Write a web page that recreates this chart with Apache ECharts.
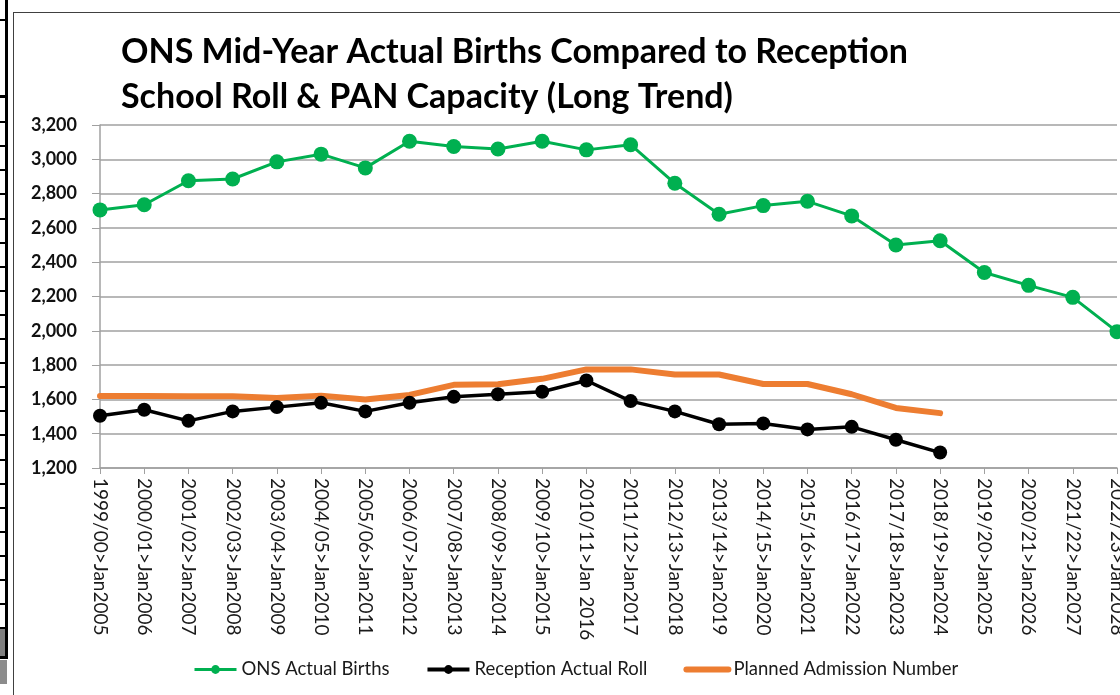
<!DOCTYPE html>
<html><head><meta charset="utf-8">
<script src="https://cdn.jsdelivr.net/npm/echarts@6/dist/echarts.min.js"></script>
<style>html,body{margin:0;padding:0;background:#fff}#c{width:1120px;height:695px}</style>
</head><body><div id="c"></div>
<script>
const categories = [
  '1999/00>Jan2005','2000/01>Jan2006','2001/02>Jan2007','2002/03>Jan2008','2003/04>Jan2009',
  '2004/05>Jan2010','2005/06>Jan2011','2006/07>Jan2012','2007/08>Jan2013','2008/09>Jan2014',
  '2009/10>Jan2015','2010/11>Jan 2016','2011/12>Jan2017','2012/13>Jan2018','2013/14>Jan2019',
  '2014/15>Jan2020','2015/16>Jan2021','2016/17>Jan2022','2017/18>Jan2023','2018/19>Jan2024',
  '2019/20>Jan2025','2020/21>Jan2026','2021/22>Jan2027','2022/23>Jan2028'
];
const onsBirths = [2705, 2735, 2875, 2885, 2985, 3030, 2950, 3105, 3075, 3060, 3105, 3055,
                   3085, 2860, 2680, 2730, 2755, 2670, 2500, 2525, 2340, 2265, 2195, 1995];
const receptionRoll = [1505, 1540, 1475, 1530, 1555, 1580, 1530, 1580, 1615, 1630, 1645, 1710,
                       1590, 1530, 1455, 1460, 1425, 1440, 1365, 1290];
const plannedAdmission = [1620, 1620, 1618, 1618, 1608, 1622, 1600, 1626, 1685, 1688, 1720, 1775,
                          1775, 1745, 1745, 1690, 1690, 1630, 1550, 1520];
const seriesNames = ['ONS Actual Births', 'Reception Actual Roll', 'Planned Admission Number'];
const titleText = 'ONS Mid-Year Actual Births Compared to Reception\nSchool Roll & PAN Capacity (Long Trend)';

function fmt(v){ return String(v).replace(/\B(?=(\d{3})+(?!\d))/g, ','); }

// decorative remnants at left edge of the screenshot
const graphics = [
  {type:'rect', shape:{x:13, y:12, width:1200, height:1}, style:{fill:'#404040'}, silent:true},
  {type:'rect', shape:{x:13, y:12, width:1, height:700}, style:{fill:'#404040'}, silent:true},
  {type:'rect', shape:{x:5, y:0, width:3, height:659}, style:{fill:'#000'}, silent:true},
  {type:'rect', shape:{x:0, y:19, width:7, height:2}, style:{fill:'#000'}, silent:true},
  {type:'rect', shape:{x:0, y:95, width:7, height:3}, style:{fill:'#000'}, silent:true},
  {type:'rect', shape:{x:0, y:628, width:5, height:29}, style:{fill:'#7f7f7f'}, silent:true},
  {type:'rect', shape:{x:0, y:656, width:8, height:3}, style:{fill:'#000'}, silent:true},
  {type:'rect', shape:{x:0, y:660, width:7, height:24}, style:{fill:'#8c8c8c'}, silent:true}
];
for (let k = 1; k <= 22; k++) {
  graphics.push({type:'rect', shape:{x:0, y:Math.round(97 + k*24.1), width:6, height:2}, style:{fill:'#000'}, silent:true});
}

const chart = echarts.init(document.getElementById('c'), null, {renderer:'canvas'});
chart.setOption({
  animation: false,
  backgroundColor: '#fff',
  graphic: graphics,
  title: {
    text: titleText,
    left: 116, top: 25,
    textStyle: {fontFamily:'Lato', fontWeight:'bold', fontSize:34, lineHeight:45, color:'#000'}
  },
  legend: {
    left: 188, top: 655,
    itemWidth: 42, itemHeight: 11, itemGap: 36,
    textStyle: {fontFamily:'Lato', fontSize:18.5, color:'#1a1a1a'},
    data: [
      {name: seriesNames[0], lineStyle:{width:3}},
      {name: seriesNames[1], lineStyle:{width:4}},
      {name: seriesNames[2], lineStyle:{width:6, cap:'round'},
       itemStyle:{color:'rgba(0,0,0,0)', borderColor:'rgba(0,0,0,0)', borderWidth:0, opacity:0}}
    ]
  },
  grid: {left:100, right:3, top:125, bottom:227, containLabel:false, outerBoundsMode:'none'},
  xAxis: {
    type:'category', data: categories, boundaryGap:false,
    axisLine:{lineStyle:{color:'#a0a0a0', width:1.5}},
    axisTick:{show:true, length:6, interval:0, lineStyle:{color:'#a0a0a0'}},
    axisLabel:{rotate:-90, interval:0, margin:10, fontFamily:'Lato', fontSize:19, color:'#1a1a1a'},
    splitLine:{show:false}
  },
  yAxis: {
    type:'value', min:1200, max:3200, interval:200,
    axisLine:{show:true, lineStyle:{color:'#a0a0a0', width:1.5}},
    axisTick:{show:true, length:8, lineStyle:{color:'#a0a0a0'}},
    axisLabel:{margin:23, fontFamily:'Lato', fontWeight:'bold', fontSize:18, color:'#111', formatter: fmt},
    splitLine:{show:true, lineStyle:{color:'#a0a0a0', width:1.5}}
  },
  series: [
    {name: seriesNames[0], type:'line', data: onsBirths, color:'#00B050',
     symbol:'circle', symbolSize:15, lineStyle:{width:3, color:'#00B050'}, itemStyle:{color:'#00B050'}},
    {name: seriesNames[1], type:'line', data: receptionRoll, color:'#000',
     symbol:'circle', symbolSize:14, lineStyle:{width:3.5, color:'#000'}, itemStyle:{color:'#000'}},
    {name: seriesNames[2], type:'line', data: plannedAdmission, color:'#ED7D31',
     symbol:'none', showSymbol:false, lineStyle:{width:6, color:'#ED7D31', cap:'round', join:'round'}, itemStyle:{color:'#ED7D31'}}
  ]
});
</script>
</body></html>
